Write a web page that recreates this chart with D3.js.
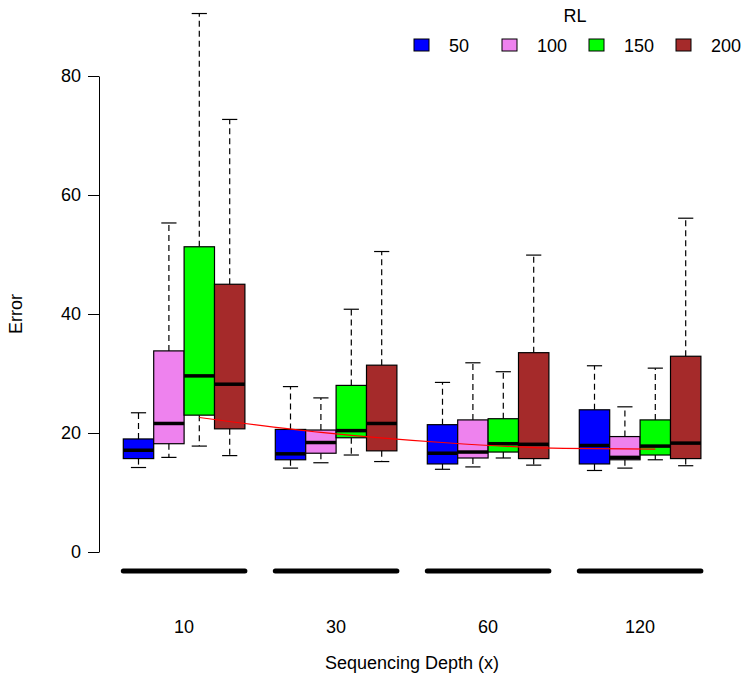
<!DOCTYPE html>
<html><head><meta charset="utf-8">
<script src="https://cdn.jsdelivr.net/npm/d3@7"></script>
<style>body{margin:0;background:#fff}svg{display:block}text{font-family:"Liberation Sans",Arial,sans-serif;fill:#000}</style>
</head><body><svg id="c" width="748" height="679"></svg>
<script>
const depths = ["10", "30", "60", "120"];
const readLengths = ["50", "100", "150", "200"];
const colors = ["#0000FF", "#EE82EE", "#00FF00", "#A52A2A"];
// per read length, per depth: [lowerWhisker, q1, median, q3, upperWhisker]
const rl50  = [[14.2,15.7,17.1,19.0,23.4],[14.1,15.5,16.5,20.6,27.8],[13.9,14.8,16.6,21.4,28.5],[13.7,14.8,17.9,23.9,31.3]];
const rl100 = [[15.9,18.2,21.6,33.8,55.3],[15.0,16.6,18.4,20.5,25.9],[14.3,15.8,16.8,22.2,31.8],[14.1,15.5,15.9,19.4,24.4]];
const rl150 = [[17.8,23.0,29.6,51.3,90.5],[16.3,19.2,20.4,28.0,40.8],[15.8,16.8,18.2,22.4,30.3],[15.5,16.3,17.8,22.2,30.9]];
const rl200 = [[16.2,20.7,28.2,45.0,72.7],[15.2,17.0,21.6,31.4,50.5],[14.6,15.7,18.1,33.5,49.9],[14.5,15.7,18.3,32.9,56.1]];
const yTicks = [0, 20, 40, 60, 80];
const trendPos = [2, 6, 10, 14, 17];
const trendVal = [22.6, 20.1, 18.4, 17.4, 17.3];

const series = [rl50, rl100, rl150, rl200];
const svg = d3.select("#c");
const x = d3.scaleLinear().domain([0, 17]).range([138.5, 655.3]);
const y = d3.scaleLinear().domain([0, 80]).range([552, 76]);
const bw = 30.4;
const fs = 18;

// y axis
const ya = svg.append("g").attr("transform", "translate(99,0)")
  .call(d3.axisLeft(y).tickValues(yTicks).tickSize(11).tickPadding(7).tickSizeOuter(0));
ya.select(".domain").attr("stroke", "#000");
ya.selectAll(".tick line").attr("stroke", "#000");
ya.selectAll("text").style("font-size", fs + "px").style("font-family", "Liberation Sans, Arial, sans-serif");

svg.append("text").attr("transform", "translate(16,314) rotate(-90)")
  .attr("text-anchor", "middle").attr("dominant-baseline", "central").style("font-size", fs + "px").text("Error");

// boxes
const boxes = [];
depths.forEach((d, g) => {
  series.forEach((s, i) => {
    boxes.push({pos: g * 5 + i, v: s[g], col: colors[i]});
  });
});
const bg = svg.append("g");
boxes.forEach(b => {
  const cx = x(b.pos);
  const [lo, q1, md, q3, hi] = b.v;
  const gg = bg.append("g");
  gg.append("line").attr("x1", cx).attr("x2", cx).attr("y1", y(q3)).attr("y2", y(hi))
    .attr("stroke", "#000").attr("stroke-width", 1.2).attr("stroke-dasharray", "6,4");
  gg.append("line").attr("x1", cx).attr("x2", cx).attr("y1", y(q1)).attr("y2", y(lo))
    .attr("stroke", "#000").attr("stroke-width", 1.2).attr("stroke-dasharray", "6,4");
  gg.append("line").attr("x1", cx - 7.6).attr("x2", cx + 7.6).attr("y1", y(hi)).attr("y2", y(hi))
    .attr("stroke", "#000").attr("stroke-width", 1.2);
  gg.append("line").attr("x1", cx - 7.6).attr("x2", cx + 7.6).attr("y1", y(lo)).attr("y2", y(lo))
    .attr("stroke", "#000").attr("stroke-width", 1.2);
  gg.append("rect").attr("x", cx - bw / 2).attr("width", bw).attr("y", y(q3)).attr("height", y(q1) - y(q3))
    .attr("fill", b.col).attr("stroke", "#000").attr("stroke-width", 1.2);
  gg.append("line").attr("x1", cx - bw / 2).attr("x2", cx + bw / 2).attr("y1", y(md)).attr("y2", y(md))
    .attr("stroke", "#000").attr("stroke-width", 3.5);
});

// trend line
const pts = trendPos.map((p, i) => [x(p), y(trendVal[i])]);
svg.append("path").attr("d", d3.line().curve(d3.curveMonotoneX)(pts))
  .attr("fill", "none").attr("stroke", "#FF0000").attr("stroke-width", 1.2);

// x axis: thick segment per group + labels
depths.forEach((d, g) => {
  svg.append("line").attr("x1", x(g * 5) - bw / 2).attr("x2", x(g * 5 + 3) + bw / 2)
    .attr("y1", 571).attr("y2", 571).attr("stroke", "#000").attr("stroke-width", 5).attr("stroke-linecap", "round");
  svg.append("text").attr("x", x(g * 5 + 1.5)).attr("y", 627).attr("text-anchor", "middle")
    .attr("dominant-baseline", "central").style("font-size", fs + "px").text(d);
});
svg.append("text").attr("x", 412).attr("y", 663).attr("text-anchor", "middle")
  .attr("dominant-baseline", "central").style("font-size", fs + "px").text("Sequencing Depth (x)");

// legend
svg.append("text").attr("x", 575).attr("y", 16).attr("text-anchor", "middle")
  .attr("dominant-baseline", "central").style("font-size", fs + "px").text("RL");
const lx = [414, 502, 589, 676];
readLengths.forEach((r, i) => {
  svg.append("rect").attr("x", lx[i]).attr("y", 39).attr("width", 15).attr("height", 12)
    .attr("fill", colors[i]).attr("stroke", "#000").attr("stroke-width", 1);
  svg.append("text").attr("x", lx[i] + 35).attr("y", 45.5).attr("dominant-baseline", "central")
    .style("font-size", fs + "px").text(r);
});
</script></body></html>
